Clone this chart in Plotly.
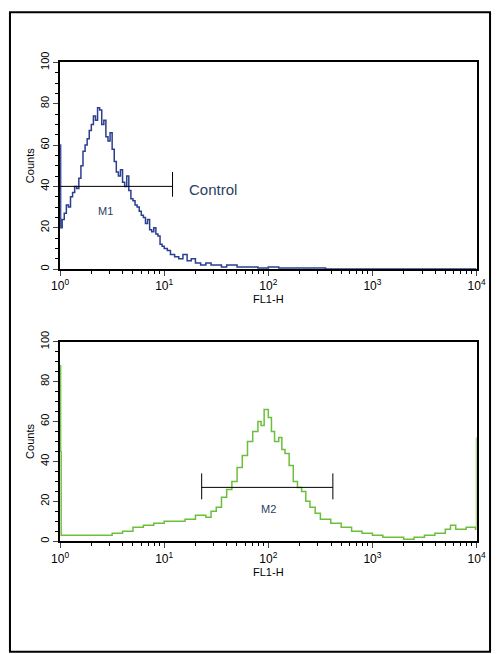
import plotly.graph_objects as go
import numpy as np

# Top histogram (Control), log10 of FL1-H vs counts
top_logx = [0.0, 0.005, 0.02, 0.04, 0.06, 0.08, 0.1, 0.12, 0.14, 0.16, 0.18, 0.2, 0.22, 0.24, 0.26, 0.28, 0.3, 0.32, 0.34, 0.36, 0.38, 0.4, 0.42, 0.44, 0.46, 0.48, 0.5, 0.52, 0.54, 0.56, 0.58, 0.6, 0.62, 0.64, 0.66, 0.68, 0.7, 0.72, 0.74, 0.76, 0.78, 0.8, 0.82, 0.84, 0.86, 0.88, 0.9, 0.92, 0.94, 0.96, 0.98, 1.0, 1.03, 1.06, 1.1, 1.14, 1.18, 1.22, 1.26, 1.3, 1.35, 1.4, 1.45, 1.5, 1.55, 1.6, 1.7, 1.8, 1.9, 2.0, 2.1, 2.2, 2.3, 2.4, 2.5, 2.55, 4.0]
top_counts = [60, 20, 24, 27, 31, 30, 35, 37, 40, 39, 44, 50, 57, 60, 63, 67, 70, 74, 72, 78, 77, 70, 72, 64, 62, 66, 58, 52, 47, 45, 48, 42, 40, 45, 38, 34, 33, 31, 30, 28, 26, 25, 22, 24, 19, 18, 20, 17, 16, 12, 11, 10, 9, 7, 6, 5, 7, 4, 5, 3, 2, 3, 2, 2, 1, 2, 1, 1, 0.5, 1, 0.5, 0.5, 0.5, 0.5, 0.5, 0, 0]

# Bottom histogram (M2)
bot_logx = [0.0, 0.005, 0.01, 0.2, 0.4, 0.5, 0.6, 0.7, 0.8, 0.9, 1.0, 1.1, 1.2, 1.3, 1.4, 1.45, 1.5, 1.55, 1.6, 1.65, 1.7, 1.75, 1.8, 1.85, 1.9, 1.93, 1.96, 2.0, 2.03, 2.06, 2.1, 2.13, 2.16, 2.2, 2.24, 2.28, 2.32, 2.36, 2.4, 2.45, 2.5, 2.6, 2.7, 2.8, 2.9, 3.0, 3.1, 3.2, 3.3, 3.4, 3.5, 3.6, 3.7, 3.75, 3.8, 3.9, 3.99, 4.0]
bot_counts = [88, 45, 3, 3, 3, 4, 5, 7, 8, 9, 10, 10, 11, 13, 12, 15, 17, 22, 26, 30, 37, 43, 50, 55, 60, 58, 66, 62, 55, 50, 52, 46, 44, 38, 30, 27, 25, 20, 17, 14, 11, 9, 7, 5, 4, 3, 2, 2, 1, 2, 3, 4, 6, 8, 6, 7, 6, 52]

tick_vals = [0, 1, 2, 3, 4]
tick_text = ["10<sup>0</sup>", "10<sup>1</sup>", "10<sup>2</sup>", "10<sup>3</sup>", "10<sup>4</sup>"]
y_ticks = [0, 20, 40, 60, 80, 100]

fig = go.Figure()
fig.add_trace(go.Scatter(x=top_logx, y=top_counts, mode="lines", line=dict(color="#2a3f8f", width=1.5, shape="hv"), xaxis="x", yaxis="y"))
fig.add_trace(go.Scatter(x=bot_logx, y=bot_counts, mode="lines", line=dict(color="#6cbf3c", width=1.5, shape="hv"), xaxis="x2", yaxis="y2"))

minor_x = [d + np.log10(m) for d in range(4) for m in range(2, 10)]
font = dict(family="Liberation Sans, Arial", size=11, color="black")
ax = dict(range=[0, 4], tickvals=tick_vals, ticktext=tick_text, ticks="outside", ticklen=5,
          showline=True, linecolor="black", linewidth=2, mirror=True, showgrid=False, zeroline=False,
          title=dict(text="FL1-H", font=font, standoff=2), tickfont=dict(family="Liberation Sans, Arial", size=12, color="black"),
          minor=dict(tickvals=minor_x, ticks="outside", ticklen=3, tickcolor="black"))
ay = dict(range=[0, 100], tickvals=y_ticks, ticks="outside", ticklen=5, tickangle=-90,
          showline=True, linecolor="black", linewidth=2, mirror=True, showgrid=False, zeroline=False,
          title=dict(text="Counts", font=font, standoff=2), tickfont=dict(family="Liberation Sans, Arial", size=11, color="black"),
          minor=dict(dtick=5, ticks="outside", ticklen=3, tickcolor="black"))

fig.update_layout(
    width=500, height=654, autosize=False, margin=dict(l=0, r=0, t=0, b=0),
    paper_bgcolor="white", plot_bgcolor="white", showlegend=False,
    xaxis=dict(ax, domain=[0.106, 0.97], anchor="y"),
    yaxis=dict(ay, domain=[0.598, 0.920], anchor="x"),
    xaxis2=dict(ax, domain=[0.106, 0.97], anchor="y2"),
    yaxis2=dict(ay, domain=[0.174, 0.485], anchor="x2"),
)

shapes = [
    dict(type="rect", xref="paper", yref="paper", x0=0.002, x1=0.998, y0=0.002, y1=0.998, line=dict(color="black", width=2)),
    dict(type="line", xref="x", yref="y", x0=0, x1=1.08, y0=40, y1=40, line=dict(color="black", width=1)),
    dict(type="line", xref="x", yref="y", x0=1.08, x1=1.08, y0=35, y1=47, line=dict(color="black", width=1)),
    dict(type="line", xref="x2", yref="y2", x0=1.36, x1=2.62, y0=27, y1=27, line=dict(color="black", width=1)),
    dict(type="line", xref="x2", yref="y2", x0=1.36, x1=1.36, y0=21, y1=34, line=dict(color="black", width=1)),
    dict(type="line", xref="x2", yref="y2", x0=2.62, x1=2.62, y0=21, y1=34, line=dict(color="black", width=1)),
]
fig.update_layout(shapes=shapes)
fig.add_annotation(x=0.44, y=28, xref="x", yref="y", text="M1", showarrow=False, font=dict(family="Liberation Sans, Arial", size=11))
fig.add_annotation(x=1.22, y=38.5, xref="x", yref="y", text="Control", showarrow=False, xanchor="left", font=dict(family="Liberation Sans, Arial", size=15))
fig.add_annotation(x=2.0, y=16, xref="x2", yref="y2", text="M2", showarrow=False, font=dict(family="Liberation Sans, Arial", size=11))

post = """
document.documentElement.style.margin='0';document.documentElement.style.padding='0';
document.body.style.margin='0';document.body.style.padding='0';document.body.style.overflow='hidden';
var gd=document.getElementById('{plot_id}');
gd.style.position='fixed';gd.style.left='0px';gd.style.top='0px';gd.style.width='500px';gd.style.height='654px';
if(gd.parentElement){gd.parentElement.style.margin='0';gd.parentElement.style.padding='0';}
Plotly.relayout(gd,{width:500,height:654});
"""
fig.write_html("out.html", post_script=post, config={"displayModeBar": False, "responsive": False})
